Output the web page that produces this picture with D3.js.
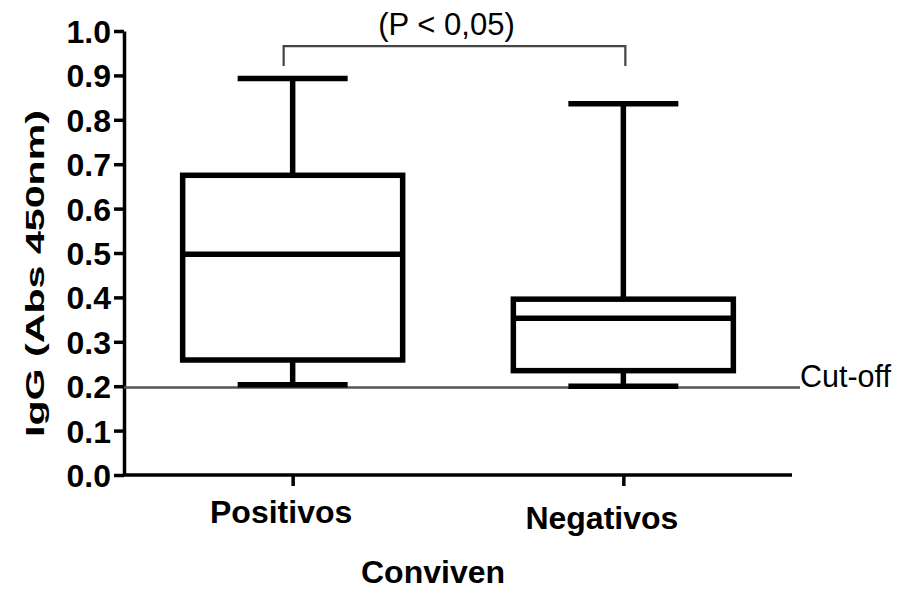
<!DOCTYPE html>
<html>
<head>
<meta charset="utf-8">
<script src="https://cdn.jsdelivr.net/npm/d3@7"></script>
<style>
  html, body { margin: 0; padding: 0; background: #fff; }
  svg { display: block; }
  text { font-family: Arial, "Liberation Sans", sans-serif; fill: #000; }
</style>
</head>
<body>
<svg id="chart" width="906" height="595"></svg>
<script>
// Groups and five-number summaries of IgG absorbance
const categories = ["Positivos", "Negativos"];
const whiskerLow  = [0.203, 0.200];
const q1          = [0.259, 0.235];
const median      = [0.497, 0.353];
const q3          = [0.675, 0.396];
const whiskerHigh = [0.893, 0.836];

const yTicks = [0.0, 0.1, 0.2, 0.3, 0.4, 0.5, 0.6, 0.7, 0.8, 0.9, 1.0];
const cutOff = 0.197;
const pLabel = "(P < 0,05)";

const svg = d3.select("#chart");

const plotLeft = 124, plotRight = 792, plotTop = 31, plotBottom = 475;

const y = d3.scaleLinear().domain([0, 1]).range([plotBottom, plotTop]);
const x = d3.scalePoint().domain(categories).range([plotLeft, plotRight]).padding(0.51);

const boxW = 220, capW = 110, lw = 5.5;

// Y axis
const yAxis = svg.append("g")
  .attr("transform", `translate(${plotLeft},0)`)
  .call(d3.axisLeft(y).tickValues(yTicks).tickFormat(d3.format(".1f")).tickSize(10).tickSizeOuter(0));
yAxis.select(".domain").attr("stroke", "#000").attr("stroke-width", 3.5);
yAxis.selectAll(".tick line").attr("stroke", "#000").attr("stroke-width", 3.5);
yAxis.selectAll(".tick text")
  .attr("x", -13)
  .attr("dy", "0.36em")
  .style("font-size", "32px")
  .style("font-weight", "bold")
  .attr("fill", "#000");

// X axis
const labelNudge = { Positivos: [-12, 0], Negativos: [-22, 6] };
const xAxis = svg.append("g")
  .attr("transform", `translate(0,${plotBottom})`)
  .call(d3.axisBottom(x).tickSize(11).tickSizeOuter(0));
xAxis.select(".domain").attr("stroke", "#000").attr("stroke-width", 3.5)
  .attr("d", `M${plotLeft},0H${plotRight}`);
xAxis.selectAll(".tick line").attr("stroke", "#000").attr("stroke-width", 3.5);
xAxis.selectAll(".tick text")
  .attr("x", d => labelNudge[d][0])
  .attr("y", d => 48 + labelNudge[d][1])
  .attr("dy", 0)
  .style("font-size", "32px")
  .style("font-weight", "bold")
  .attr("fill", "#000");

// Cut-off reference line
svg.append("line")
  .attr("x1", plotLeft).attr("x2", 800)
  .attr("y1", y(cutOff)).attr("y2", y(cutOff))
  .attr("stroke", "#555").attr("stroke-width", 2.5);
svg.append("text")
  .attr("x", 800).attr("y", y(cutOff) - 1)
  .style("font-size", "30.5px")
  .attr("fill", "#111")
  .text("Cut-off");

// Box plots
const data = categories.map((c, i) => ({
  c, lo: whiskerLow[i], q1: q1[i], med: median[i], q3: q3[i], hi: whiskerHigh[i]
}));

const g = svg.append("g").attr("stroke", "#000").attr("stroke-width", lw).attr("fill", "none");
const box = g.selectAll("g.box").data(data).join("g").attr("class", "box");

// whisker stems
box.append("line")
  .attr("x1", d => x(d.c)).attr("x2", d => x(d.c))
  .attr("y1", d => y(d.hi)).attr("y2", d => y(d.q3));
box.append("line")
  .attr("x1", d => x(d.c)).attr("x2", d => x(d.c))
  .attr("y1", d => y(d.q1)).attr("y2", d => y(d.lo));
// caps
box.append("line")
  .attr("x1", d => x(d.c) - capW / 2).attr("x2", d => x(d.c) + capW / 2)
  .attr("y1", d => y(d.hi)).attr("y2", d => y(d.hi));
box.append("line")
  .attr("x1", d => x(d.c) - capW / 2).attr("x2", d => x(d.c) + capW / 2)
  .attr("y1", d => y(d.lo)).attr("y2", d => y(d.lo));
// box
box.append("rect")
  .attr("x", d => x(d.c) - boxW / 2)
  .attr("width", boxW)
  .attr("y", d => y(d.q3))
  .attr("height", d => y(d.q1) - y(d.q3))
  .attr("fill", "#fff");
// median
box.append("line")
  .attr("x1", d => x(d.c) - boxW / 2).attr("x2", d => x(d.c) + boxW / 2)
  .attr("y1", d => y(d.med)).attr("y2", d => y(d.med));

// Significance bracket
const bx1 = x(categories[0]) - 9, bx2 = x(categories[1]) + 2;
const bTop = y(0.966), bEnd = y(0.921);
svg.append("path")
  .attr("d", `M${bx1},${bEnd}V${bTop}H${bx2}V${bEnd}`)
  .attr("fill", "none").attr("stroke", "#444").attr("stroke-width", 2.2);
svg.append("text")
  .attr("x", (bx1 + bx2) / 2 - 8).attr("y", 35)
  .attr("text-anchor", "middle")
  .style("font-size", "31px")
  .text(pLabel);

// Axis titles
svg.append("text")
  .attr("transform", `translate(44,273.5) rotate(-90)`)
  .attr("text-anchor", "middle")
  .attr("textLength", 327)
  .attr("lengthAdjust", "spacingAndGlyphs")
  .style("font-size", "26px")
  .style("font-weight", "bold")
  .text("IgG (Abs 450nm)");

svg.append("text")
  .attr("x", 433).attr("y", 583)
  .attr("text-anchor", "middle")
  .style("font-size", "32px")
  .style("font-weight", "bold")
  .text("Conviven");
</script>
</body>
</html>
